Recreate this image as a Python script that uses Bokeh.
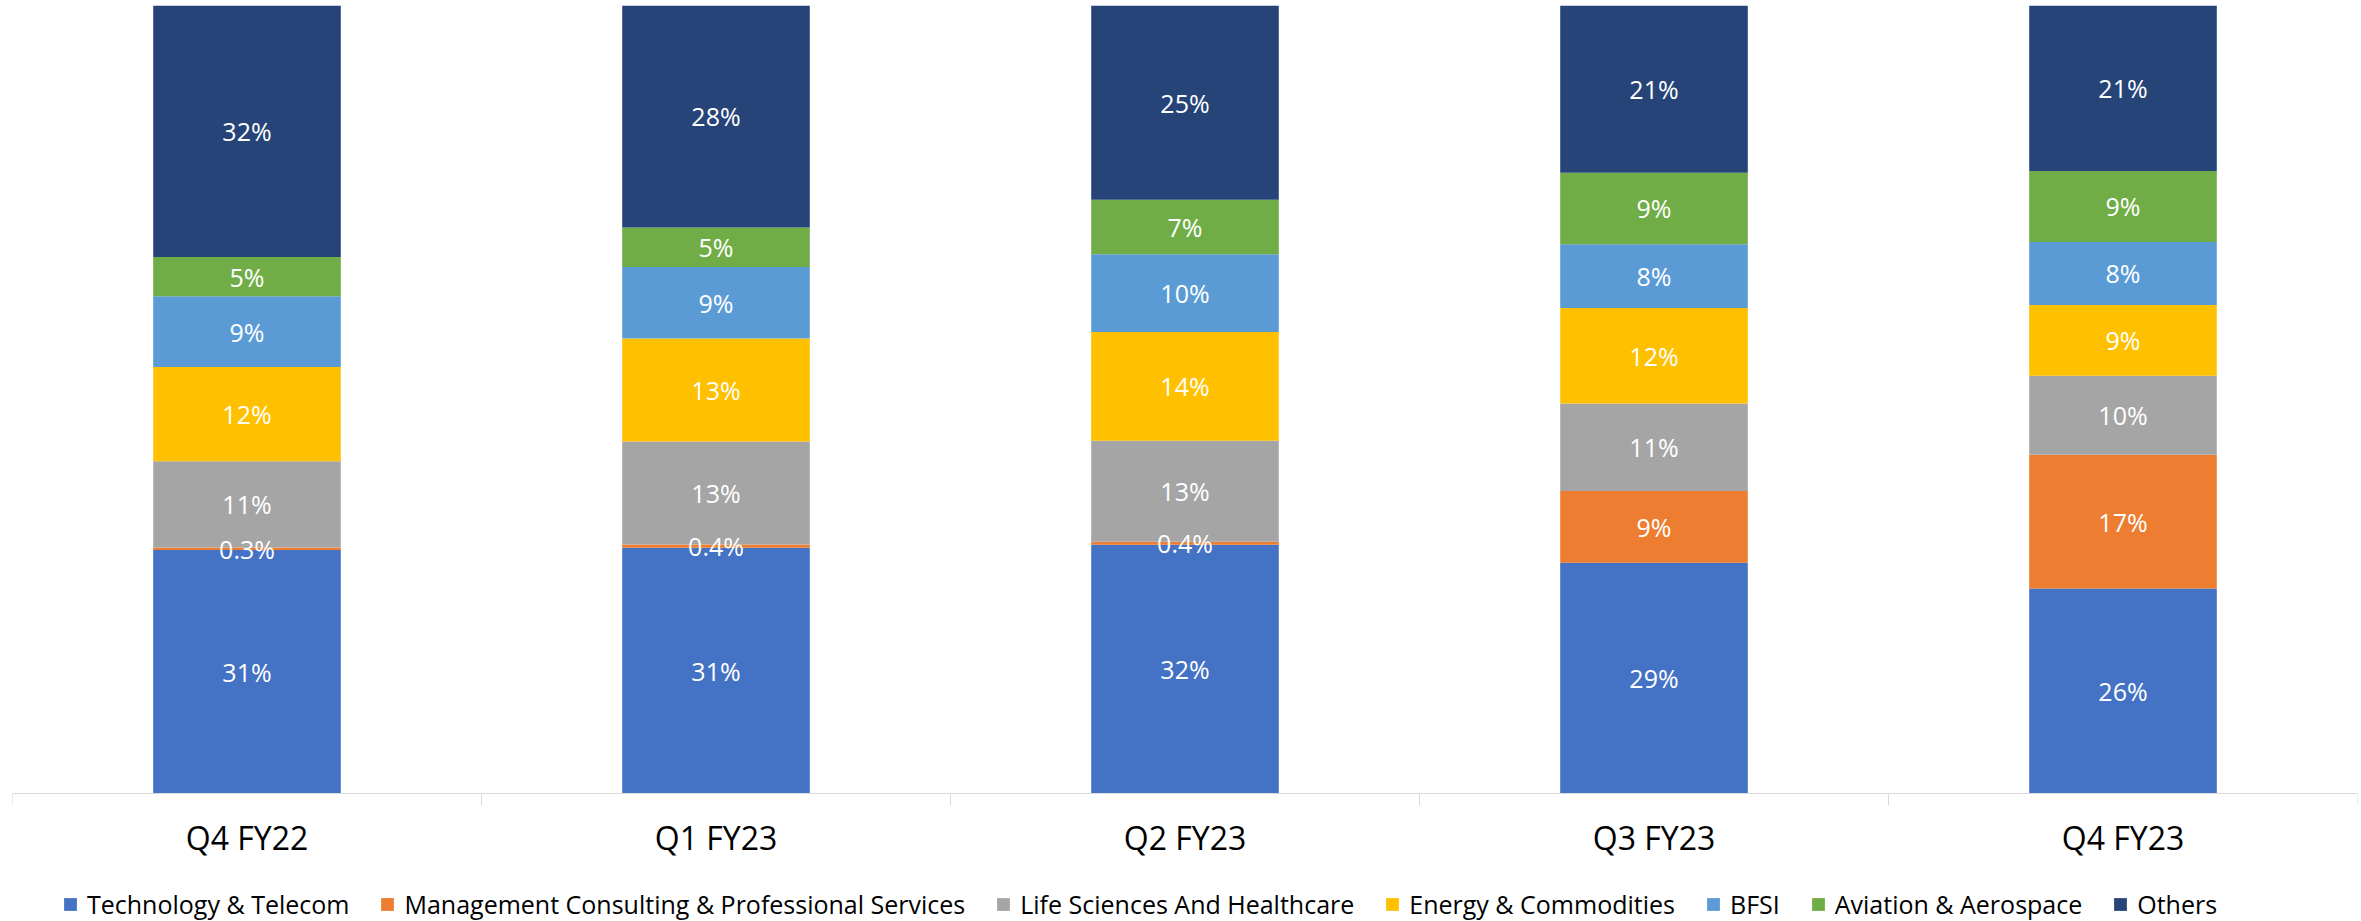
from bokeh.plotting import figure
from bokeh.models import Range1d, FixedTicker, Legend, LegendItem, ColumnDataSource
from bokeh.core.properties import value
from bokeh.embed import file_html
from bokeh.resources import INLINE

quarters = ["Q4 FY22", "Q1 FY23", "Q2 FY23", "Q3 FY23", "Q4 FY23"]
segments = [
    "Technology & Telecom",
    "Management Consulting & Professional Services",
    "Life Sciences And Healthcare",
    "Energy & Commodities",
    "BFSI",
    "Aviation & Aerospace",
    "Others",
]
tech = [31, 31, 32, 29, 26]
mgmt = [0.3, 0.4, 0.4, 9, 17]
life = [11, 13, 13, 11, 10]
energy = [12, 13, 14, 12, 9]
bfsi = [9, 9, 10, 8, 8]
aviation = [5, 5, 7, 9, 9]
others = [32, 28, 25, 21, 21]
colors = ["#4472C4", "#ED7D31", "#A5A5A5", "#FFC000", "#5B9BD5", "#70AD47", "#264478"]

series = [tech, mgmt, life, energy, bfsi, aviation, others]
n = len(quarters)
xs = [i + 0.5 for i in range(n)]
totals = [sum(s[i] for s in series) for i in range(n)]

# frame spans the whole height; y=0 sits 128px above the bottom edge (788px per 100%)
y_low = -100 * 128 / 788
p = figure(frame_width=2345, frame_height=916, x_range=Range1d(0, n), y_range=Range1d(y_low, 100),
           output_backend="svg", toolbar_location=None, y_axis_location=None,
           min_border_top=5, min_border_left=12, min_border_right=4, min_border_bottom=0,
           outline_line_color=None, background_fill_color="white", border_fill_color="white")
p.xgrid.visible = False
p.ygrid.visible = False

bottom = [0.0] * n
items = []
lx, ly, lt = [], [], []
for name, vals, col in zip(segments, series, colors):
    share = [v / t * 100 for v, t in zip(vals, totals)]
    top = [b + s for b, s in zip(bottom, share)]
    src = ColumnDataSource(dict(x=xs, bottom=bottom, top=top))
    r = p.vbar(x="x", bottom="bottom", top="top", width=0.4, source=src,
               fill_color=col, line_color=None)
    items.append(LegendItem(label=name, renderers=[r]))
    for i in range(n):
        lx.append(xs[i])
        ly.append((bottom[i] + top[i]) / 2)
        v = vals[i]
        lt.append(f"{v:.1f}%" if v < 1 else f"{v:.0f}%")
    bottom = top

p.text(x=lx, y=ly, text=lt, text_align="center", text_baseline="middle",
       text_color="white", text_font=value("Open Sans"), text_font_size="25px")

ax = p.xaxis[0]
ax.fixed_location = 0
ax.ticker = FixedTicker(ticks=xs, minor_ticks=list(range(n + 1)))
ax.major_label_overrides = {x: q for x, q in zip(xs, quarters)}
ax.major_tick_line_color = None
ax.major_tick_out = 0
ax.major_tick_in = 0
ax.minor_tick_out = 12
ax.minor_tick_in = 0
ax.minor_tick_line_color = "#D9D9D9"
ax.axis_line_color = "#D9D9D9"
ax.axis_line_width = 1
ax.major_label_standoff = 10
ax.major_label_text_font = "Open Sans"
ax.major_label_text_font_size = "32px"
ax.major_label_text_color = "#000000"

legend = Legend(items=items, orientation="horizontal", location=(50, 0),
                label_text_font="Open Sans", label_text_font_size="25px",
                label_text_color="#000000", glyph_width=16, glyph_height=16,
                label_standoff=9, spacing=30, padding=0, margin=0,
                border_line_alpha=0, background_fill_alpha=0, label_height=30)
p.add_layout(legend, "center")

open("out.html", "w").write(file_html(p, INLINE))
